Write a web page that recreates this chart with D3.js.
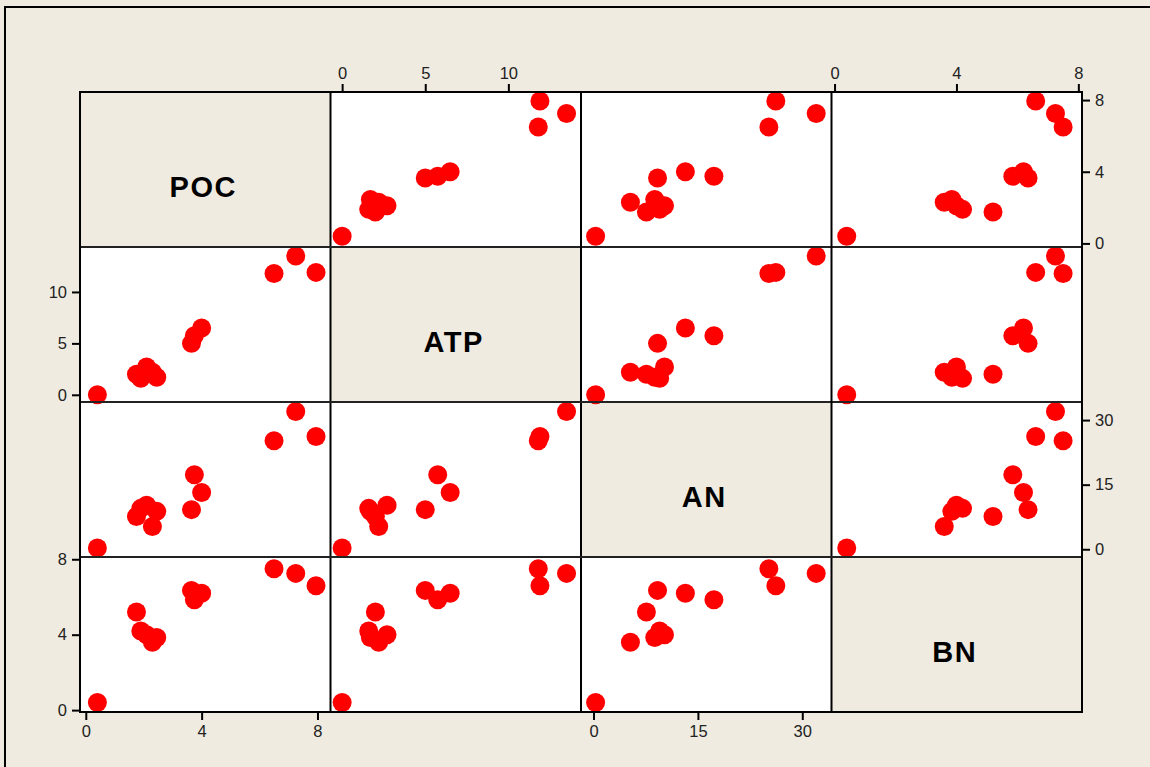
<!DOCTYPE html>
<html>
<head>
<meta charset="utf-8">
<script src="https://cdn.jsdelivr.net/npm/d3@7"></script>
<style>
  html, body { margin: 0; padding: 0; background: #EFEBE0; }
  svg { display: block; }
</style>
</head>
<body>
<svg id="chart" width="1150" height="767"></svg>
<script>
// ---- data ----
const variables = ["POC", "ATP", "AN", "BN"];
const poc = [0.4, 1.75, 2.45, 2.1, 1.9, 2.3, 3.65, 3.75, 4.0, 6.5, 7.25, 7.95];
const atp = [0.0, 2.0, 1.7, 2.7, 1.6, 2.2, 5.0, 5.75, 6.5, 11.8, 13.5, 11.9];
const an  = [0.3, 7.6, 8.8, 10.2, 9.5, 5.3, 9.2, 17.3, 13.2, 25.2, 32.0, 26.2];
const bn  = [0.4, 5.2, 3.85, 4.0, 4.2, 3.6, 6.35, 5.85, 6.2, 7.5, 7.25, 6.6];
const pocTicks = [0, 4, 8];
const atpTicks = [0, 5, 10];
const anTicks  = [0, 15, 30];
const bnTicks  = [0, 4, 8];

const series = [poc, atp, an, bn];
const ticks = [pocTicks, atpTicks, anTicks, bnTicks];
const domains = [[-0.2, 8.45], [-0.7, 14.37], [-1.8, 34.2], [-0.1, 8.12]];

// ---- layout ----
const svg = d3.select("#chart");
const bg = "#EFEBE0";
const x0 = 80, y0 = 92, pw = 250.5, ph = 155;
const n = variables.length;

// outer frame of the window
svg.append("rect").attr("x", 0).attr("y", 0).attr("width", 1150).attr("height", 767).attr("fill", bg);
svg.append("path").attr("d", "M5,767 L5,7 L1150,7").attr("fill", "none").attr("stroke", "#000").attr("stroke-width", 2);

const xs = series.map((s, j) => d3.scaleLinear().domain(domains[j]).range([x0 + j * pw, x0 + (j + 1) * pw]));
const ys = series.map((s, i) => d3.scaleLinear().domain(domains[i]).range([y0 + (i + 1) * ph, y0 + i * ph]));

const g = svg.append("g");

// panels
for (let i = 0; i < n; i++) {
  for (let j = 0; j < n; j++) {
    g.append("rect")
      .attr("x", x0 + j * pw).attr("y", y0 + i * ph)
      .attr("width", pw).attr("height", ph)
      .attr("fill", i === j ? bg : "#fff");
  }
}

// diagonal labels
for (let i = 0; i < n; i++) {
  g.append("text")
    .attr("x", x0 + i * pw + pw / 2 - 2)
    .attr("y", y0 + i * ph + ph / 2 + 20)
    .attr("text-anchor", "middle")
    .attr("dominant-baseline", "middle")
    .attr("font-family", "Liberation Sans, Arial, sans-serif")
    .attr("font-weight", "bold")
    .attr("font-size", 29)
    .attr("letter-spacing", 1.5)
    .attr("fill", "#000")
    .text(variables[i]);
}

// points
for (let i = 0; i < n; i++) {
  for (let j = 0; j < n; j++) {
    if (i === j) continue;
    const xv = series[j], yv = series[i];
    g.append("g").selectAll("circle")
      .data(d3.range(xv.length))
      .join("circle")
      .attr("cx", k => xs[j](xv[k]))
      .attr("cy", k => ys[i](yv[k]))
      .attr("r", 9.5)
      .attr("fill", "#FF0000");
  }
}

// grid lines
for (let k = 1; k < n; k++) {
  g.append("line").attr("x1", x0 + k * pw).attr("x2", x0 + k * pw)
    .attr("y1", y0).attr("y2", y0 + n * ph)
    .attr("stroke", "#000").attr("stroke-width", 2);
  g.append("line").attr("y1", y0 + k * ph).attr("y2", y0 + k * ph)
    .attr("x1", x0).attr("x2", x0 + n * pw)
    .attr("stroke", "#222").attr("stroke-width", 2);
}
g.append("rect").attr("x", x0).attr("y", y0).attr("width", n * pw).attr("height", n * ph)
  .attr("fill", "none").attr("stroke", "#000").attr("stroke-width", 2);

// axes
function styleAxis(sel) {
  sel.select(".domain").remove();
  sel.selectAll(".tick line").attr("stroke", "#000").attr("stroke-width", 2);
  sel.selectAll(".tick text")
    .attr("font-family", "Liberation Sans, Arial, sans-serif")
    .attr("font-size", 16.5)
    .attr("fill", "#222");
}
for (let j = 0; j < n; j++) {
  const top = (j % 2 === 1);
  const ax = (top ? d3.axisTop(xs[j]) : d3.axisBottom(xs[j]))
    .tickValues(ticks[j]).tickSize(8).tickSizeOuter(0).tickPadding(5);
  svg.append("g")
    .attr("transform", `translate(0,${top ? y0 : y0 + n * ph})`)
    .call(ax).call(styleAxis);
}
for (let i = 0; i < n; i++) {
  const left = (i % 2 === 1);
  const ax = (left ? d3.axisLeft(ys[i]) : d3.axisRight(ys[i]))
    .tickValues(ticks[i]).tickSize(8).tickSizeOuter(0).tickPadding(5);
  svg.append("g")
    .attr("transform", `translate(${left ? x0 : x0 + n * pw},0)`)
    .call(ax).call(styleAxis);
}
</script>
</body>
</html>
